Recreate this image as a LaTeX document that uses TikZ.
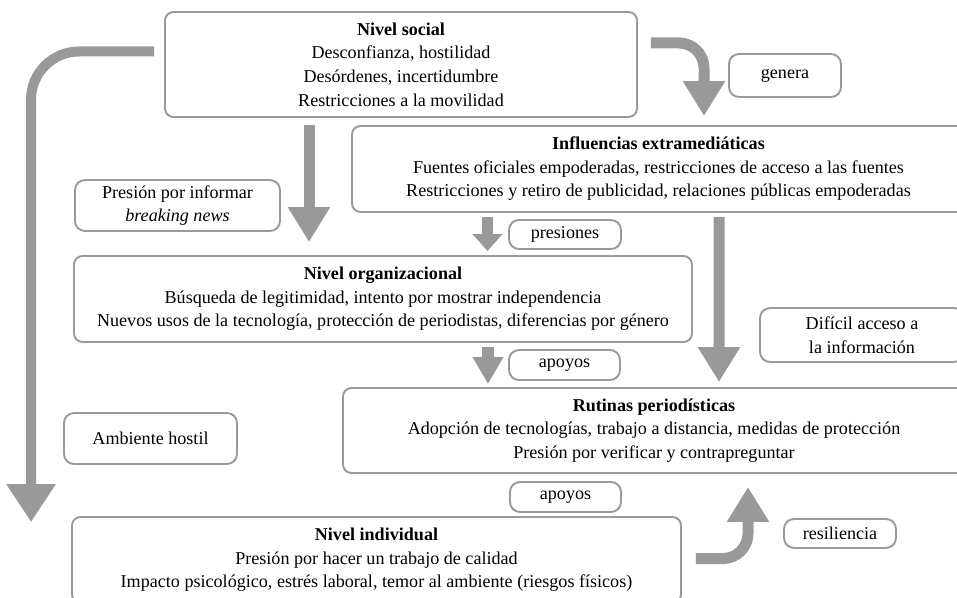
\documentclass[tikz,border=0pt]{standalone}
\usepackage{fontspec}
\setmainfont{Liberation Serif}
\usetikzlibrary{arrows.meta,positioning}
\definecolor{boxgray}{HTML}{9A9A9A}
\definecolor{arrgray}{HTML}{999999}

\begin{document}
\begin{tikzpicture}[
    x=0.02cm, y=-0.02cm,
    font=\fontsize{10.3}{13.4}\selectfont,
    box/.style 2 args={draw=boxgray,line width=1.1pt,rounded corners=0.17cm,align=center,inner sep=0pt,minimum width=#1*0.02cm,minimum height=#2*0.02cm},
    tag/.style 2 args={box={#1}{#2},rounded corners=0.2cm},
    arr/.style={draw=arrgray,line width=0.22cm,-{Triangle[width=0.8cm,length=0.7cm]}},
    bigarr/.style={arr,line width=0.2cm,-{Triangle[width=0.94cm,length=0.76cm]}},
    smallarr/.style={draw=arrgray,line width=0.23cm,-{Triangle[width=0.58cm,length=#1]}}
]
\useasboundingbox (0,0) rectangle (957,598);

% levels
\node[box={472}{105}] (social) at (401,64.5) {\textbf{Nivel social}\\Desconfianza, hostilidad\\Desórdenes, incertidumbre\\Restricciones a la movilidad};
\node[box={613}{86}] (infl) at (658.5,169) {\textbf{Influencias extramediáticas}\\Fuentes oficiales empoderadas, restricciones de acceso a las fuentes\\Restricciones y retiro de publicidad, relaciones públicas empoderadas};
\node[box={618}{86}] (org) at (383,299) {\textbf{Nivel organizacional}\\Búsqueda de legitimidad, intento por mostrar independencia\\Nuevos usos de la tecnología, protección de periodistas, diferencias por género};
\node[box={622}{85}] (rut) at (654,430.5) {\textbf{Rutinas periodísticas}\\Adopción de tecnologías, trabajo a distancia, medidas de protección\\Presión por verificar y contrapreguntar};
\node[box={609}{86}] (indiv) at (376.5,560) {\textbf{Nivel individual}\\Presión por hacer un trabajo de calidad\\Impacto psicológico, estrés laboral, temor al ambiente (riesgos físicos)};

% labels
\node[tag={205}{51}] (breaking) at (177.5,205.5) {Presión por informar\\\textit{breaking news}};
\node[tag={112}{43}] (genera) at (785,75.5) {genera};
\node[tag={112}{29}] (presiones) at (565,234.5) {presiones};
\node[tag={111}{30}] (apoyosA) at (564.5,365) {apoyos};
\node[tag={204}{54}] (acceso) at (862,335) {Difícil acceso a\\la información};
\node[tag={173}{51}] (hostil) at (150.5,438.5) {Ambiente hostil};
\node[tag={111}{30}] (apoyosB) at (565.5,497) {apoyos};
\node[tag={112}{29}] (resil) at (840,533.5) {resiliencia};

% arrows
\draw[bigarr,rounded corners=0.96cm] ([shift={(-10,-13)}]social.west) -| ([shift={(-40,6)}]indiv.north west);
\draw[arr] ([shift={(-92,7)}]social.south) -- ([shift={(-74,-13)}]org.north);
\draw[arr,rounded corners=0.5cm] ([shift={(13,-21.5)}]social.east) -| ([shift={(45.5,-9)}]infl.north);
\draw[smallarr=0.34cm] ([shift={(-171,4)}]infl.south) -- ([shift={(104.5,-4)}]org.north);
\draw[arr] ([shift={(60.5,4)}]infl.south) -- ([shift={(65,-5)}]rut.north);
\draw[smallarr=0.54cm] ([shift={(105,4)}]org.south) -- ([shift={(-166,-3)}]rut.north);
\draw[arr,rounded corners=0.5cm] ([shift={(14,-1.5)}]indiv.east) -| ([shift={(94,13)}]rut.south);
\end{tikzpicture}
\end{document}
